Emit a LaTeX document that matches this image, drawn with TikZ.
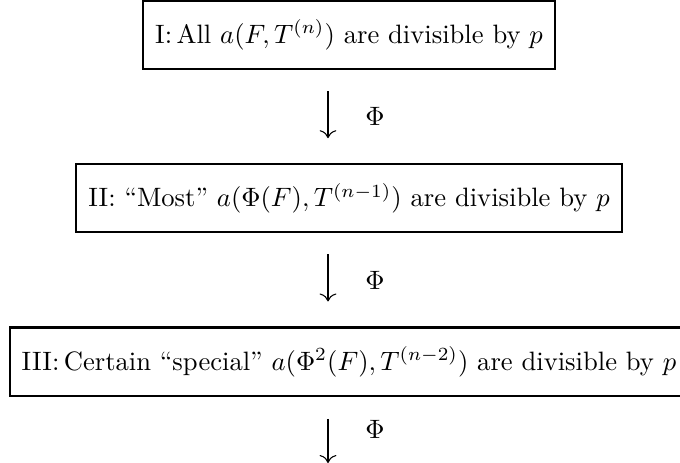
\documentclass[tikz,border=0pt]{standalone}
\usetikzlibrary{arrows.meta, positioning}

\begin{document}
\begin{tikzpicture}[
    x=0.376pt, y=-0.376pt,
    node distance=35pt,
    stage/.style={rectangle, draw, thick, minimum height=25.6pt,
                  inner xsep=4.5pt, align=center},
    map/.style={-{Computer Modern Rightarrow[length=3pt]}, line width=0.4pt},
    lbl/.style={right=10.5pt}
]
\useasboundingbox (0,0) rectangle (680,463);

\node[stage] (all) at (349,35) {I:\,All $a(F,T^{(n)})$ are divisible by $p$};
\node[stage, below=of all] (most) {II: ``Most'' $a(\Phi(F),T^{(n-1)})$ are divisible by $p$};
\node[stage, below=of most] (special) {III:\,Certain ``special'' $a(\Phi^2(F),T^{(n-2)})$ are divisible by $p$};
\coordinate (next) at (328,463);

\draw[map, shorten <=7.9pt, shorten >=9.4pt] (all.south -| next) -- (most.north -| next)
    node[midway, lbl] {$\Phi$};
\draw[map, shorten <=7.9pt, shorten >=9.4pt] (most.south -| next) -- (special.north -| next)
    node[midway, lbl] {$\Phi$};
\draw[map, shorten <=8.3pt] (special.south -| next) -- (next)
    node[midway, lbl] {$\Phi$};

\end{tikzpicture}
\end{document}
